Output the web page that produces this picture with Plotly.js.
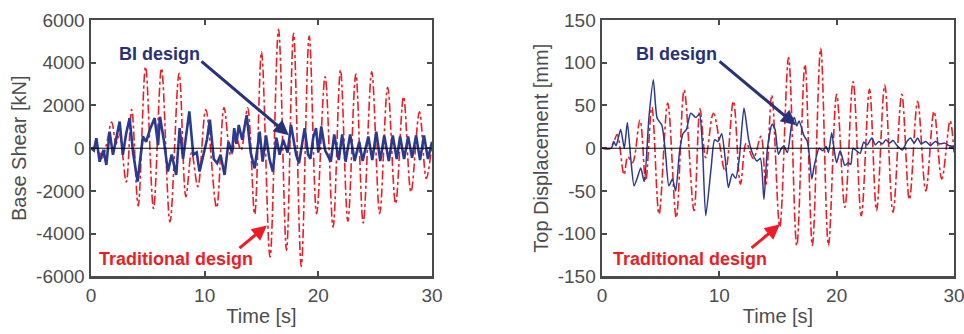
<!DOCTYPE html>
<html>
<head>
<meta charset="utf-8">
<script src="https://cdn.plot.ly/plotly-3.0.1.min.js"></script>
<style>html,body{margin:0;padding:0;background:#fff;}#chart{width:964px;height:334px;}</style>
</head>
<body>
<div id="chart"></div>
<script>
// ---- Base shear (left panel) ----
const shearTradT = [0,0.5,1.0,1.35,1.82,2.2,2.5,3.1,3.58,4.15,4.8,5.5,6.2,6.95,7.75,8.35,8.85,9.4,10.1,11.05,11.7,12.3,12.8,13.2,13.78,14.4,15.0,15.75,16.5,17.2,17.82,18.5,19.2,19.85,20.6,21.3,21.95,22.6,23.3,23.95,24.7,25.4,26.1,26.8,27.5,28.15,28.9,29.5,30];
const shearTradV = [0,50,-450,150,1230,200,700,-1580,1810,-2700,3810,-2820,3740,-3450,3510,-2270,-200,-1800,1810,-2780,1910,-350,450,-100,1890,-3090,4510,-5090,5560,-4780,5380,-5530,5250,-3060,3340,-3690,3660,-3410,3470,-3500,3580,-3060,2850,-2590,2410,-2050,1700,-1420,200];
const shearBIT = [0,0.25,0.47,0.76,1.1,1.35,1.64,1.93,2.2,2.52,2.8,3.1,3.4,3.7,4.1,4.35,4.57,4.85,5.2,5.6,5.9,6.07,6.4,6.77,7.1,7.5,7.8,8.1,8.4,8.65,9.0,9.3,9.55,9.9,10.2,10.46,10.8,11.1,11.4,11.75,12.1,12.4,12.6,12.8,13.0,13.3,13.7,14.05,14.4,14.84,15.1,15.4,15.7,16.0,16.3,16.6,16.9,17.3,17.6,18.05,18.3,18.8,19.1,19.3,19.55,19.8,20.0,20.26,20.6,21.1,21.4,21.8,22.1,22.4,22.8,23.2,23.6,23.9,24.4,24.75,25.1,25.45,25.8,26.2,26.55,26.9,27.2,27.55,27.9,28.25,28.6,28.95,29.3,29.65,30];
const shearBIV = [0,-100,470,-630,-80,-780,780,-310,400,1250,-310,700,1410,-200,-1560,-400,550,300,900,1410,150,1470,400,-1090,-300,-1250,940,-500,600,1720,-300,-200,-1090,-200,400,1340,-500,-700,-300,-1250,300,-200,940,200,1090,400,1550,-200,-940,780,-630,600,-500,-1090,500,-300,400,-200,1090,-310,-700,940,-300,-500,500,940,-200,1020,-100,-630,650,-550,650,-630,650,-600,300,-600,550,-550,780,-600,600,-600,600,-500,550,-500,550,-450,600,-550,600,-500,300];

// ---- Top displacement (right panel) ----
const dispTradT = [0,0.7,1.02,1.3,1.88,2.2,2.6,3.24,3.72,4.25,4.86,5.6,6.33,7.0,7.84,8.35,8.84,9.5,10.5,11.2,11.8,12.3,12.9,13.55,13.95,14.47,15.15,15.9,16.6,17.3,17.93,18.64,19.3,20.0,20.7,21.4,22.1,22.8,23.4,24.1,24.8,25.55,26.2,26.9,27.6,28.3,28.96,29.67,30];
const dispTradV = [0,0,8,16,-31,-10,-17,33,-38,48,-77,53,-81,68,-73,46,-11,41,-27,55,-42,6,-12,14,-44,62,-92,106,-114,98,-114,117,-114,63,-69,78,-79,69,-73,74,-75,63,-60,55,-50,43,-36,32,-5];
const dispBIT = [0,0.8,1.0,1.2,1.59,1.9,2.16,2.45,2.73,3.0,3.3,3.6,4.0,4.37,4.7,5.1,5.4,5.7,6.0,6.28,6.6,6.9,7.2,7.56,8.0,8.3,8.55,8.84,9.3,9.6,9.9,10.2,10.5,10.77,11.1,11.4,11.7,12.1,12.5,12.8,13.2,13.5,13.8,14.1,14.5,14.75,15.03,15.3,15.5,15.8,16.17,16.4,16.6,16.8,17.2,17.5,17.7,17.88,18.1,18.5,18.8,19.1,19.3,19.58,19.8,20.0,20.3,20.7,21.0,21.2,21.4,21.7,22.0,22.3,22.6,23.0,23.3,23.6,23.9,24.2,24.5,24.8,25.1,25.6,26.0,26.3,26.6,26.9,27.2,27.6,28.0,28.4,28.8,29.2,29.6,30];
const dispBIV = [0,0,8,3,22,0,30,-12,-44,-35,-23,-39,36,80,35,27,-4,-44,-36,-50,-5,17,22,41,36,40,5,-79,-23,10,8,17,-12,-46,-30,-35,-12,47,10,-5,-15,-12,-60,0,28,22,-7,0,3,-5,28,36,26,32,15,8,-12,-36,-20,0,-3,2,-5,18,-3,-17,-3,-20,-17,-19,0,-3,-6,7,4,12,4,8,5,10,6,9,4,-2,8,12,6,12,5,8,3,8,5,6,3,2];

// ---- tick labels ----
const timeTicks = [0,10,20,30];
const shearTickVals = [-6000,-4000,-2000,0,2000,4000,6000];
const shearTickText = ['-6000','-4000','-2000','0','2000','4000','6000'];
const dispTickVals = [-150,-100,-50,0,50,100,150];
const dispTickText = ['-150','-100','-50','0','50','100','150'];

const RED = '#ee1d25';
const NAVY = '#27327a';
const AX = '#4a4a4a';
const FONT = 'Arial, "Liberation Sans", Helvetica, sans-serif';

const traces = [
  {x: shearTradT, y: shearTradV, xaxis:'x', yaxis:'y', mode:'lines', line:{color:RED, width:1.6, dash:'dashdot', shape:'spline', smoothing:1}, showlegend:false},
  {x: shearBIT, y: shearBIV, xaxis:'x', yaxis:'y', mode:'lines', line:{color:'#2b3a8f', width:2.6}, showlegend:false},
  {x: dispTradT, y: dispTradV, xaxis:'x2', yaxis:'y2', mode:'lines', line:{color:RED, width:1.6, dash:'dashdot', shape:'spline', smoothing:1}, showlegend:false},
  {x: dispBIT, y: dispBIV, xaxis:'x2', yaxis:'y2', mode:'lines', line:{color:'#2b3a8f', width:1.5, shape:'spline', smoothing:0.6}, showlegend:false}
];

function xax(dom){
  return {domain:dom, range:[0,30], tickvals:timeTicks, ticks:'inside', ticklen:5, tickwidth:2, tickcolor:AX,
    showline:true, linewidth:2.5, linecolor:AX, mirror:'ticks', showgrid:false, zeroline:false,
    ticklabeloverflow:'allow',
    tickfont:{family:FONT, size:19, color:'#4d4d4d'},
    title:{text:'Time [s]', font:{family:FONT, size:20, color:'#4d4d4d'}, standoff:4}};
}
function yax(dom, anchor, vals, text, rng, title){
  return {domain:dom, anchor:anchor, range:rng, tickvals:vals, ticktext:text, ticks:'inside', ticklen:5, tickwidth:2, tickcolor:AX,
    showline:true, linewidth:2.5, linecolor:AX, mirror:'ticks', showgrid:false, zeroline:false,
    ticklabeloverflow:'allow',
    tickfont:{family:FONT, size:19, color:'#4d4d4d'},
    title:{text:title, font:{family:FONT, size:20, color:'#4d4d4d'}, standoff:4}};
}

const yDom = [0.1722, 0.9401];
const layout = {
  width:964, height:334, margin:{l:0,r:0,t:0,b:0,pad:0},
  paper_bgcolor:'#fff', plot_bgcolor:'#fff', showlegend:false,
  font:{family:FONT},
  xaxis: Object.assign(xax([0.0944,0.4481]), {anchor:'y'}),
  yaxis: yax(yDom, 'x', shearTickVals, shearTickText, [-6000,6000], 'Base Shear [kN]'),
  xaxis2: Object.assign(xax([0.6245,0.9896]), {anchor:'y2'}),
  yaxis2: yax(yDom, 'x2', dispTickVals, dispTickText, [-150,150], 'Top Displacement [mm]'),
  shapes:[
    {type:'line', xref:'x domain', yref:'y', x0:0, x1:1, y0:0, y1:0, line:{color:'#000', width:1}, layer:'above'},
    {type:'line', xref:'x2 domain', yref:'y2', x0:0, x1:1, y0:0, y1:0, line:{color:'#000', width:1}, layer:'above'}
  ],
  annotations:[
    {xref:'x', yref:'y', x:6.07, y:4400, text:'<b>BI design</b>', showarrow:false, font:{family:FONT, size:18, color:NAVY}},
    {xref:'x', yref:'y', axref:'x', ayref:'y', x:17.41, y:610, ax:9.59, ay:4125, text:'', showarrow:true, arrowhead:2, arrowsize:1, arrowwidth:3, arrowcolor:NAVY},
    {xref:'x', yref:'y', x:7.48, y:-5200, text:'<b>Traditional design</b>', showarrow:false, font:{family:FONT, size:18, color:RED}},
    {xref:'x', yref:'y', axref:'x', ayref:'y', x:15.48, y:-3610, ax:12.93, ay:-4735, text:'', showarrow:true, arrowhead:2, arrowsize:1, arrowwidth:3, arrowcolor:RED},
    {xref:'x2', yref:'y2', x:6.39, y:110, text:'<b>BI design</b>', showarrow:false, font:{family:FONT, size:18, color:NAVY}},
    {xref:'x2', yref:'y2', axref:'x2', ayref:'y2', x:16.54, y:27, ax:9.89, ay:103, text:'', showarrow:true, arrowhead:2, arrowsize:1, arrowwidth:3, arrowcolor:NAVY},
    {xref:'x2', yref:'y2', x:7.5, y:-129, text:'<b>Traditional design</b>', showarrow:false, font:{family:FONT, size:18, color:RED}},
    {xref:'x2', yref:'y2', axref:'x2', ayref:'y2', x:15.17, y:-89, ax:12.62, ay:-118, text:'', showarrow:true, arrowhead:2, arrowsize:1, arrowwidth:3, arrowcolor:RED}
  ]
};

Plotly.newPlot('chart', traces, layout, {staticPlot:true, displayModeBar:false});
</script>
</body>
</html>
